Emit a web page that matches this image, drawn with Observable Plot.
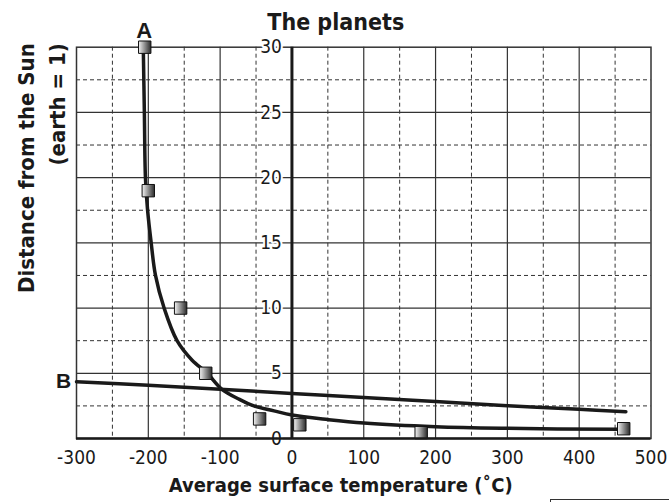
<!DOCTYPE html>
<html>
<head>
<meta charset="utf-8">
<script src="https://cdn.jsdelivr.net/npm/d3@7"></script>
<script src="https://cdn.jsdelivr.net/npm/@observablehq/plot@0.6"></script>
<style>
  html, body { margin: 0; padding: 0; background: #fff; }
  #wrap { position: relative; width: 669px; height: 502px; overflow: hidden; }
  #box { position: absolute; left: 550px; top: 499px; width: 140px; height: 20px; border: 1px solid #333; }
</style>
</head>
<body>
<div id="wrap"><div id="chart"></div><div id="box"></div></div>
<script>
// ---- data ----
const planetNames = ["Mercury", "Venus", "Earth", "Mars", "Jupiter", "Saturn", "Uranus", "Neptune"];
const planetTemp = [180, 462, 11, -45, -120, -155, -200, -205];
const planetDist = [0.45, 0.75, 1.05, 1.5, 5.0, 10, 19, 30];

const curveATemp = [-207, -205.5, -204, -201, -196, -190, -178, -160, -139, -118, -97, -73, -53, -25, 0, 50, 100, 200, 300, 460];
const curveADist = [30, 25, 20, 17.5, 15, 12.5, 10, 7.5, 6.0, 5.0, 3.75, 3.0, 2.5, 2.12, 1.8, 1.45, 1.18, 0.9, 0.78, 0.7];

const lineBTemp = [-300, -200, -100, 0, 100, 200, 300, 400, 465];
const lineBDist = [4.35, 4.08, 3.78, 3.45, 3.15, 2.83, 2.52, 2.24, 2.05];

const xTicks = [-300, -200, -100, 0, 100, 200, 300, 400, 500];
const yTicks = [0, 5, 10, 15, 20, 25, 30];
const xMinor = [-250, -150, -50, 50, 150, 250, 350, 450];
const yMinor = [2.5, 7.5, 12.5, 17.5, 22.5, 27.5];
const xMajor = [-200, -100, 100, 200, 300, 400];
const yMajor = [5, 10, 15, 20, 25];

const title = "The planets";
const xTitle = "Average surface temperature (˚C)";
const yTitle1 = "Distance from the Sun";
const yTitle2 = "(earth = 1)";

// ---- build tables ----
const planets = planetNames.map((n, i) => ({name: n, x: planetTemp[i], y: planetDist[i]}));
const curveA = curveATemp.map((x, i) => ({x, y: curveADist[i]}));
const lineB = lineBTemp.map((x, i) => ({x, y: lineBDist[i]}));

const FONT = "'DejaVu Sans Condensed', 'DejaVu Sans', sans-serif";
const ink = "#1a1a1a";

const chart = Plot.plot({
  width: 669,
  height: 502,
  marginLeft: 76,
  marginRight: 18.5,
  marginTop: 46.7,
  marginBottom: 64,
  style: {background: "#fff", fontFamily: FONT, overflow: "visible"},
  x: {domain: [-300, 500], axis: null},
  y: {domain: [0, 30], axis: null},
  marks: [
    Plot.ruleX(xMinor, {stroke: "#333", strokeWidth: 1, strokeDasharray: "4,3"}),
    Plot.ruleY(yMinor, {stroke: "#333", strokeWidth: 1, strokeDasharray: "4,3"}),
    Plot.ruleX(xMajor, {stroke: "#333", strokeWidth: 1.2}),
    Plot.ruleY(yMajor, {stroke: "#333", strokeWidth: 1.2}),
    Plot.frame({stroke: "#333", strokeWidth: 1.5}),
    // y tick labels along x = 0 axis
    Plot.text(yTicks, {x: () => 0, y: d => d, text: d => String(d), textAnchor: "end", dx: -10,
      fontSize: 19, fill: ink, stroke: "white", strokeWidth: 4}),
    Plot.ruleX([0], {stroke: ink, strokeWidth: 3}),
    // x tick labels
    Plot.text(xTicks, {x: d => d, y: () => 0, text: d => String(d), dy: 19, lineAnchor: "middle",
      fontSize: 19, fill: ink}),
    // curves
    Plot.line(lineB, {x: "x", y: "y", curve: "catmull-rom", stroke: ink, strokeWidth: 3.5}),
    Plot.line(curveA, {x: "x", y: "y", curve: "catmull-rom", stroke: ink, strokeWidth: 3.5}),
    // planets
    Plot.dot(planets, {x: "x", y: "y", symbol: "square", r: 7, fill: "url(#sqgrad)", stroke: "#111", strokeWidth: 1}),
    Plot.ruleY([0], {stroke: ink, strokeWidth: 2.5}),
    // labels A, B anchored to the curves' starts
    Plot.text([curveA[0]], {x: "x", y: "y", text: () => "A", dy: -16, dx: 1, fontSize: 22, fontWeight: "bold",
      fontFamily: "'Liberation Sans', Arial, sans-serif", fill: ink}),
    Plot.text([lineB[0]], {x: "x", y: "y", text: () => "B", dx: -13, dy: 0, fontSize: 21, fontWeight: "bold",
      fontFamily: "'Liberation Sans', Arial, sans-serif", fill: ink}),
    // titles
    Plot.text([title], {frameAnchor: "top", text: d => d, dx: -28, dy: -34, fontSize: 23, fontWeight: "bold", fill: ink}),
    Plot.text([xTitle], {frameAnchor: "bottom", text: d => d, dx: -23, dy: 53, fontSize: 20, fontWeight: "bold", fill: ink}),
    Plot.text([yTitle1], {frameAnchor: "top-left", text: d => d, rotate: -90, textAnchor: "end", dx: -58, dy: -4,
      fontSize: 22, fontWeight: "bold", fill: ink}),
    Plot.text([yTitle2], {frameAnchor: "top-left", text: d => d, rotate: -90, textAnchor: "end", dx: -27, dy: -4,
      fontSize: 22, fontWeight: "bold", fill: ink})
  ]
});

const defs = d3.select(chart).insert("defs", ":first-child");
const g = defs.append("linearGradient").attr("id", "sqgrad").attr("x1", "0%").attr("x2", "100%").attr("y1", "0%").attr("y2", "0%");
g.append("stop").attr("offset", "0%").attr("stop-color", "#f4f4f4");
g.append("stop").attr("offset", "100%").attr("stop-color", "#2a2a2a");

document.getElementById("chart").appendChild(chart);
</script>
</body>
</html>
